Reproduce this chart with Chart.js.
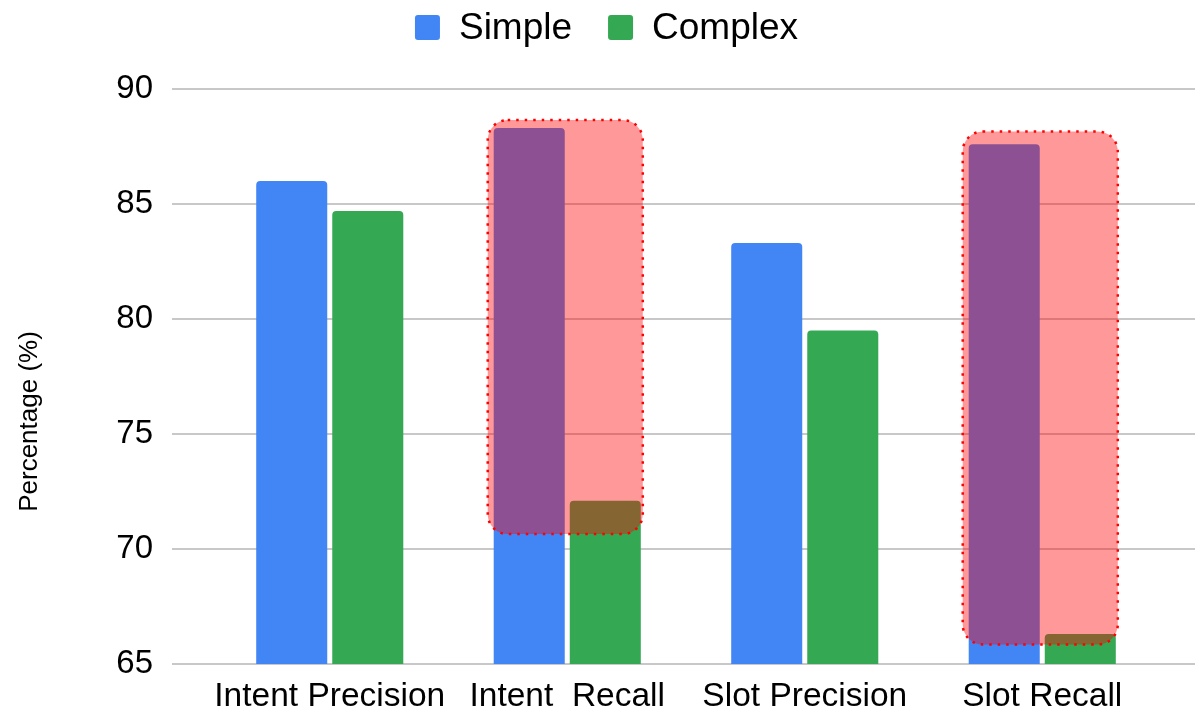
<!DOCTYPE html>
<html>
<head>
<meta charset="utf-8">
<script src="https://cdn.jsdelivr.net/npm/chart.js@4.4.1/dist/chart.umd.min.js"></script>
<style>
  html, body { margin: 0; padding: 0; background: #fff; }
  #wrap { width: 1195px; height: 711px; }
</style>
</head>
<body>
<div id="wrap"><canvas id="chart" width="1195" height="711"></canvas></div>
<script>
const categories = ['Intent Precision', 'Intent  Recall', 'Slot Precision', 'Slot Recall'];
const simpleValues = [86.0, 88.3, 83.3, 87.6];
const complexValues = [84.7, 72.1, 79.5, 66.3];
const yTicks = [65, 70, 75, 80, 85, 90];

// shaded boxes around the recall groups (category index, value range)
const highlightIndex = [1, 3];
const highlightFrom = [70.65, 65.85];
const highlightTo = [88.65, 88.15];

const FONT = "'Liberation Sans', Arial, Helvetica, sans-serif";

// horizontal grid, wider than the plot area
const gridLines = {
  id: 'gridLines',
  beforeDatasetsDraw(chart) {
    const { ctx, chartArea, scales: { y } } = chart;
    ctx.save();
    ctx.strokeStyle = '#c8c8c8';
    ctx.lineWidth = 2;
    yTicks.forEach(v => {
      const py = Math.round(y.getPixelForValue(v));
      ctx.beginPath();
      ctx.moveTo(chartArea.left - 39, py);
      ctx.lineTo(chart.width, py);
      ctx.stroke();
    });
    ctx.restore();
  }
};

const highlights = {
  id: 'highlights',
  afterDatasetsDraw(chart) {
    const { ctx, scales: { y } } = chart;
    ctx.save();
    highlightIndex.forEach((idx, i) => {
      const a = chart.getDatasetMeta(0).data[idx];
      const b = chart.getDatasetMeta(1).data[idx];
      const left = a.x - a.width / 2 - 6;
      const right = b.x + b.width / 2 + 2;
      const top = y.getPixelForValue(highlightTo[i]);
      const bottom = y.getPixelForValue(highlightFrom[i]);
      ctx.beginPath();
      ctx.roundRect(left, top, right - left, bottom - top, 20);
      ctx.fillStyle = 'rgba(255, 0, 0, 0.4)';
      ctx.fill();
      ctx.setLineDash([2.5, 6]);
      ctx.lineWidth = 2.5;
      ctx.strokeStyle = '#ff0000';
      ctx.stroke();
    });
    ctx.restore();
  }
};

// legend row above the plot and the rotated y title
const labelsPlugin = {
  id: 'labelsPlugin',
  afterDraw(chart) {
    const { ctx, chartArea } = chart;
    ctx.save();
    ctx.font = `37px ${FONT}`;
    ctx.textBaseline = 'middle';
    ctx.textAlign = 'left';
    const items = chart.data.datasets.map(ds => ({ text: ds.label, color: ds.backgroundColor }));
    const widths = items.map(it => 25 + 19 + ctx.measureText(it.text).width);
    const total = widths.reduce((s, w) => s + w, 0) + 36 * (items.length - 1);
    let x = chart.width / 2 + 9 - total / 2;
    const cy = 27.5;
    items.forEach((it, i) => {
      ctx.fillStyle = it.color;
      ctx.beginPath();
      ctx.roundRect(x, cy - 12.5, 25, 25, 3);
      ctx.fill();
      ctx.fillStyle = '#000';
      ctx.fillText(it.text, x + 25 + 19, cy + 1);
      x += widths[i] + 36;
    });

    ctx.translate(chartArea.left - 181, (chartArea.top + chartArea.bottom) / 2 + 45);
    ctx.rotate(-Math.PI / 2);
    ctx.font = `26px ${FONT}`;
    ctx.textAlign = 'center';
    ctx.fillText('Percentage (%)', 0, 0);
    ctx.restore();
  }
};

new Chart(document.getElementById('chart'), {
  type: 'bar',
  data: {
    labels: categories,
    datasets: [
      {
        label: 'Simple',
        data: simpleValues,
        backgroundColor: '#4285f4',
        borderWidth: 0,
        borderRadius: { topLeft: 4, topRight: 4 },
        borderSkipped: 'bottom',
        categoryPercentage: 0.6404,
        barPercentage: 0.934
      },
      {
        label: 'Complex',
        data: complexValues,
        backgroundColor: '#34a853',
        borderWidth: 0,
        borderRadius: { topLeft: 4, topRight: 4 },
        borderSkipped: 'bottom',
        categoryPercentage: 0.6404,
        barPercentage: 0.934
      }
    ]
  },
  options: {
    responsive: false,
    animation: false,
    layout: { padding: { top: 89, left: 58, right: 34, bottom: 0 } },
    plugins: {
      legend: { display: false },
      tooltip: { enabled: false }
    },
    scales: {
      x: {
        grid: { display: false, drawTicks: false },
        border: { display: false },
        ticks: {
          autoSkip: false,
          maxRotation: 0,
          padding: 18,
          color: '#000',
          font: { family: FONT, size: 33.5, lineHeight: 0.9 }
        },
        afterFit(scale) {
          scale.height = 47;
          scale.paddingLeft = 0;
          scale.paddingRight = 0;
        }
      },
      y: {
        min: 65,
        max: 90,
        grid: { display: false, drawTicks: false },
        border: { display: false },
        ticks: {
          stepSize: 5,
          padding: 58,
          color: '#000',
          font: { family: FONT, size: 33 }
        },
        afterFit(scale) {
          scale.width = 153;
          scale.paddingTop = 0;
          scale.paddingBottom = 0;
        }
      }
    }
  },
  plugins: [gridLines, highlights, labelsPlugin]
});
</script>
</body>
</html>
